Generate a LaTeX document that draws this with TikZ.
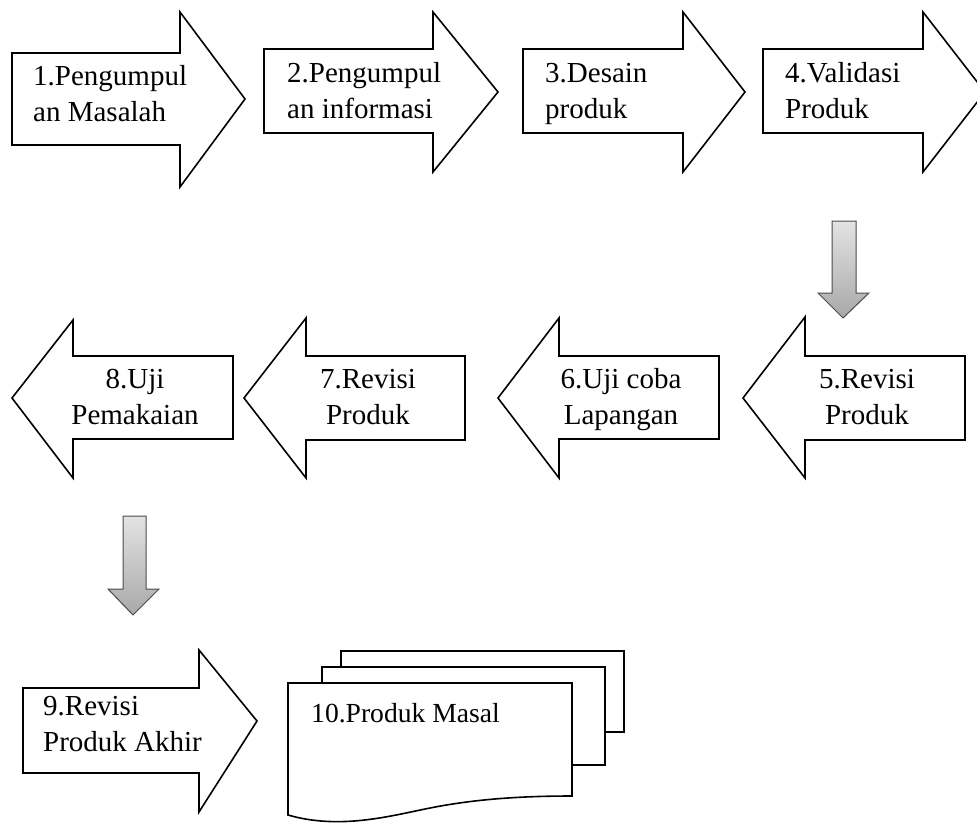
\documentclass[tikz,border=0pt]{standalone}
\usepackage{fontspec}
\setmainfont{Liberation Serif}
\begin{document}
\begin{tikzpicture}[x=1pt,y=-1pt,
  blk/.style={draw=black,line width=1.6pt,fill=white,line join=miter},
  gray arrow/.style={top color=gray!22,bottom color=gray!68,draw=gray!60!black,line width=1pt},
  lbl/.style={inner sep=0pt,font=\fontsize{29}{36}\selectfont}]
\clip (0,0) rectangle (977,823);
% row 1 (right arrows)
\draw[blk] (12,53) -- (180,53) -- (180,12) -- (245,99) -- (180,187) -- (180,145) -- (12,145) -- cycle;
\draw[blk] (264,49) -- (433,49) -- (433,12) -- (498,92) -- (433,172) -- (433,133) -- (264,133) -- cycle;
\draw[blk] (523,49) -- (683,49) -- (683,12) -- (745,92) -- (683,172) -- (683,133) -- (523,133) -- cycle;
\draw[blk] (763,49) -- (923,49) -- (923,12) -- (985,92) -- (923,172) -- (923,133) -- (763,133) -- cycle;
\node[lbl,anchor=base west] (a1) at (33,85) {\begin{tabular}[t]{@{}l@{}}1.Pengumpul\\an Masalah\end{tabular}};
\node[lbl,anchor=base west] (a2) at (287,82) {\begin{tabular}[t]{@{}l@{}}2.Pengumpul\\an informasi\end{tabular}};
\node[lbl,anchor=base west] (a3) at (545,82) {\begin{tabular}[t]{@{}l@{}}3.Desain\\produk\end{tabular}};
\node[lbl,anchor=base west] (a4) at (785,82) {\begin{tabular}[t]{@{}l@{}}4.Validasi\\Produk\end{tabular}};
% down arrow 4 -> 5
\shade[gray arrow] (832,221) -- (856,221) -- (856,293) -- (869,293) -- (843,318) -- (818,293) -- (832,293) -- cycle;
% row 2 (left arrows)
\draw[blk] (965,356) -- (805,356) -- (805,317) -- (743,398) -- (805,478) -- (805,440) -- (965,440) -- cycle;
\draw[blk] (719,356) -- (559,356) -- (559,318) -- (498,398) -- (559,478) -- (559,439) -- (719,439) -- cycle;
\draw[blk] (465,356) -- (306,356) -- (306,318) -- (244,398) -- (306,478) -- (306,440) -- (465,440) -- cycle;
\draw[blk] (233,356) -- (73,356) -- (73,320) -- (12,398) -- (73,478) -- (73,439) -- (233,439) -- cycle;
\node[lbl,anchor=base] (a5) at (867,388) {\begin{tabular}[t]{@{}c@{}}5.Revisi\\Produk\end{tabular}};
\node[lbl,anchor=base] (a6) at (621,388) {\begin{tabular}[t]{@{}c@{}}6.Uji coba\\Lapangan\end{tabular}};
\node[lbl,anchor=base] (a7) at (368,388) {\begin{tabular}[t]{@{}c@{}}7.Revisi\\Produk\end{tabular}};
\node[lbl,anchor=base] (a8) at (135,388) {\begin{tabular}[t]{@{}c@{}}8.Uji\\Pemakaian\end{tabular}};
% down arrow 8 -> 9
\shade[gray arrow] (123,516) -- (146,516) -- (146,589) -- (159,589) -- (133,615) -- (108,589) -- (123,589) -- cycle;
% row 3
\draw[blk] (23,688) -- (199,688) -- (199,650) -- (257,721) -- (199,812) -- (199,773) -- (23,773) -- cycle;
\node[lbl,anchor=base west] (a9) at (43,715) {\begin{tabular}[t]{@{}l@{}}9.Revisi\\Produk Akhir\end{tabular}};
% multi-document
\draw[blk] (341,651) rectangle (624,732);
\draw[blk] (322,667) rectangle (605,765);
\draw[blk] (288,683) -- (572,683) -- (572,796)
  .. controls (530,796) and (480,798) .. (430,808)
  .. controls (390,816) and (340,830) .. (288,815) -- cycle;
\node[lbl,anchor=base west,font=\fontsize{27.6}{36}\selectfont] (a10) at (311,722) {10.Produk Masal};
\end{tikzpicture}
\end{document}
